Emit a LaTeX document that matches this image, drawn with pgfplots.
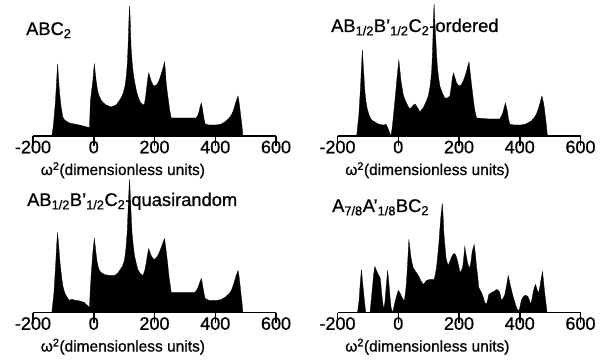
\documentclass[border=0pt]{standalone}
\usepackage{fontspec}
\setmainfont{Liberation Sans}[FakeBold=0.8]
\usepackage{pgfplots}
\pgfplotsset{compat=1.18}
\pgfplotsset{
  dos/.style={
    scale only axis, width=243bp, height=136bp,
    xmin=-200, xmax=600, ymin=0, ymax=136,
    xtick={-200,0,200,400,600},
    axis x line=bottom, axis y line=none,
    x axis line style={-, line width=1.5bp},
    tick align=outside,
    clip=false,
    /pgf/number format/assume math mode=true,
    xticklabel style={font=\fontsize{18bp}{20bp}\selectfont, anchor=base, yshift=-13bp},
    xlabel={ω\textsuperscript{2}(dimensionless units)},
    xlabel style={at={(axis description cs:0.37,0)}, anchor=base, yshift=-39bp, font=\fontsize{15.5bp}{18bp}\selectfont},
    anchor=south west,
  },
  dosfill/.style={fill=black, draw=black, line width=0.3bp},
}
\newcommand{\ticks}{\pgfplotsinvokeforeach{-200,0,200,400,600}{\draw[black, line width=1.5bp] (axis cs:##1,0) -- ([yshift=-10bp]axis cs:##1,0);}}
\begin{document}
\begin{tikzpicture}
\path[use as bounding box] (0,0) rectangle (611bp,362bp);
% Panel 1
\begin{axis}[dos, at={(33bp,226bp)}]
\addplot[dosfill] coordinates {
(-138,0) (-133,10) (-126,35) (-121,62) (-119,72) (-116,58) (-113,45) (-108,30) (-102,19) (-96,16) (-91,15) (-80,13) (-47,11) (-16,8.5)
(-14,9) (-11,35) (-6,48) (-3,55) (0,66) (2,72) (5,63) (8,55) (13,45) (18,40) (24,36) (32,33) (41,31) (57,29) (74,31) (90,38) (97,43) (103,50) (108,62) (111,75) (114,98) (116,118) (118,130) (120,117) (121,105) (123,88) (126,75) (130,63) (134,55) (140,46) (145,40) (153,34) (162,31) (167,32) (171,40) (175,50) (179,60) (181,63) (185,59) (189,55) (195,51) (200,50) (206,51) (211,53) (217,57) (222,62) (228,68) (233,74) (236,65) (238,55) (242,44) (246,35) (250,26) (255,18) (337,18) (343,21) (346,24) (350,29) (354,33) (357,29) (359,25) (363,17) (367,12) (380,11) (403,11) (420,12) (436,15) (446,18) (453,21) (459,25) (464,30) (470,36) (475,40) (478,35) (480,30) (484,20) (488,10) (491,0)
} \closedcycle;
\ticks
\end{axis}
% Panel 2
\begin{axis}[dos, at={(337.5bp,226bp)}]
\addplot[dosfill] coordinates {
(-137,0) (-130,20) (-124,50) (-121,70) (-118,86) (-115,70) (-110,45) (-106,34) (-102,27) (-95,20) (-88,16) (-66,12) (-50,11) (-46,11) (-41,12) (-37,10) (-33,7) (-28,3) (-24,0) (-20,8) (-16,20) (-12,32) (-8,45) (-3,62) (2,76) (5,67) (9,55) (16,42) (21,37) (27,33) (32,30) (38,27) (45,29) (50,31) (55,32) (60,30) (66,27) (71,24) (76,26) (82,28) (90,33) (99,40) (105,50) (110,65) (113,85) (116,120) (118,132) (120,118) (123,100) (126,82) (129,68) (133,58) (137,50) (145,43) (153,38) (162,38) (170,40) (174,48) (178,58) (182,63) (187,58) (192,53) (197,51) (203,50) (209,52) (214,55) (220,60) (225,65) (229,70) (233,74) (237,63) (241,52) (245,42) (249,32) (253,24) (258,18) (300,17) (334,17) (340,20) (345,24) (349,29) (353,33) (356,29) (359,25) (363,17) (367,12) (380,11) (405,11) (420,12) (438,15) (447,18) (455,22) (461,27) (466,32) (470,37) (473,40) (477,35) (480,30) (484,20) (488,10) (491,0)
} \closedcycle;
\ticks
\end{axis}
% Panel 3
\begin{axis}[dos, at={(33bp,49.5bp)}]
\addplot[dosfill] coordinates {
(-138,0) (-131,20) (-125,50) (-122,68) (-119,80) (-115,65) (-111,50) (-106,36) (-102,27) (-96,20) (-91,17) (-85,14) (-80,12) (-75,13) (-69,13) (-60,12) (-53,12) (-40,11) (-31,10) (-25,8) (-20,7) (-14,5) (-12,20) (-9,35) (-6,48) (-3,60) (2,74) (5,66) (8,58) (11,51) (15,45) (19,42) (24,40) (35,38) (52,37) (68,37) (78,39) (85,42) (94,46) (101,52) (106,64) (110,80) (114,110) (116,123) (118,133) (120,120) (122,105) (124,92) (126,80) (130,67) (134,57) (140,49) (145,43) (153,39) (162,37) (168,42) (173,50) (177,58) (181,64) (185,60) (189,57) (195,54) (200,53) (206,55) (211,57) (217,61) (222,65) (228,70) (233,74) (237,65) (241,55) (245,44) (248,35) (252,27) (255,20) (300,20) (332,20) (338,22) (343,25) (349,30) (354,34) (357,30) (359,26) (363,19) (367,14) (380,12) (403,12) (420,13) (436,16) (446,19) (453,22) (459,27) (464,32) (470,38) (475,42) (478,37) (480,32) (484,21) (488,10) (491,0)
} \closedcycle;
\ticks
\end{axis}
% Panel 4
\begin{axis}[dos, at={(337.5bp,49.5bp)}]
\addplot[dosfill] coordinates {
(-134,0) (-129,12) (-125,30) (-121,43) (-118,32) (-114,20) (-110,8) (-107,0) (-93,0) (-89,12) (-85,25) (-81,38) (-77,46) (-73,43) (-69,40) (-64,37) (-60,35) (-57,28) (-55,20) (-51,10) (-48,3) (-44,10) (-40,25) (-35,42) (-31,30) (-27,15) (-24,6) (-20,0) (-16,3) (-11,10) (-5,17) (0,22) (5,20) (11,16) (16,13) (20,12) (24,20) (27,30) (31,50) (35,73) (38,65) (42,55) (45,50) (49,45) (57,41) (66,37) (74,32) (82,28) (88,30) (93,32) (104,33) (112,33) (118,33) (122,38) (126,45) (130,57) (134,70) (137,83) (140,95) (145,109) (148,95) (150,80) (154,66) (157,55) (160,51) (164,47) (170,51) (175,55) (180,58) (184,59) (188,58) (192,55) (198,48) (203,40) (208,42) (212,45) (216,56) (219,66) (222,60) (225,55) (228,50) (232,46) (236,45) (240,52) (243,60) (247,65) (250,68) (254,58) (258,45) (262,35) (265,25) (270,22) (274,20) (280,15) (285,10) (290,8) (294,12) (298,18) (303,19) (307,20) (315,21) (323,23) (330,22) (334,20) (337,16) (340,12) (345,14) (351,18) (356,26) (362,37) (367,30) (373,22) (378,16) (384,10) (388,6) (392,3) (398,2) (401,6) (405,12) (410,15) (416,17) (422,17) (427,16) (432,12) (436,8) (440,13) (444,20) (448,25) (452,28) (456,24) (460,20) (463,21) (466,25) (470,33) (475,41) (478,32) (482,20) (486,10) (490,0)
} \closedcycle;
\ticks
\end{axis}
% Titles
\node[anchor=base west, inner sep=0pt, font=\fontsize{18.3bp}{20bp}\selectfont] at (26bp,327bp) {ABC\textsubscript{2}};
\node[anchor=base west, inner sep=0pt, font=\fontsize{18.3bp}{20bp}\selectfont] at (331bp,330bp) {AB\textsubscript{1/2}B'\textsubscript{1/2}C\textsubscript{2}-ordered};
\node[anchor=base west, inner sep=0pt, font=\fontsize{18.3bp}{20bp}\selectfont] at (27bp,156bp) {AB\textsubscript{1/2}B'\textsubscript{1/2}C\textsubscript{2}-quasirandom};
\node[anchor=base west, inner sep=0pt, font=\fontsize{18.3bp}{20bp}\selectfont] at (332bp,150bp) {A\textsubscript{7/8}A'\textsubscript{1/8}BC\textsubscript{2}};
\end{tikzpicture}
\end{document}
